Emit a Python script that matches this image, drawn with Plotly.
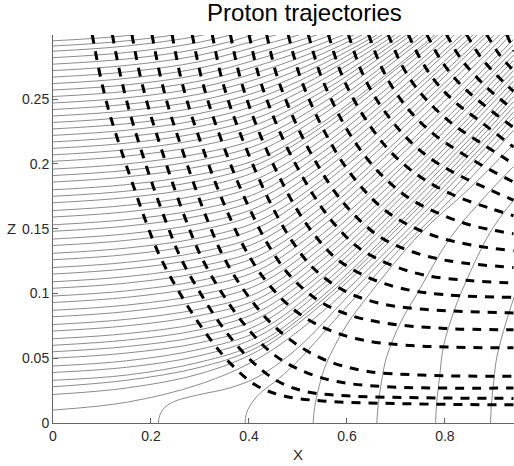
import plotly.graph_objects as go

title_text = "Proton trajectories"
x_ticks = [0, 0.2, 0.4, 0.6, 0.8]
x_tick_labels = ["0", "0.2", "0.4", "0.6", "0.8"]
z_ticks = [0, 0.05, 0.1, 0.15, 0.2, 0.25]
z_tick_labels = ["0", "0.05", "0.1", "0.15", "0.2", "0.25"]

# Trajectories that start on the left edge: z read at these x positions
x_cols = [0, 0.15, 0.3, 0.42, 0.55, 0.7, 0.85, 0.94]
left_z = [
    [0.010, 0.016, 0.030, 0.050, 0.086, 0.140, 0.199, 0.236],
    [0.022, 0.027, 0.038, 0.056, 0.092, 0.145, 0.203, 0.240],
    [0.028, 0.033, 0.043, 0.059, 0.095, 0.149, 0.207, 0.244],
    [0.033, 0.037, 0.047, 0.062, 0.098, 0.152, 0.211, 0.248],
    [0.039, 0.043, 0.052, 0.067, 0.103, 0.157, 0.215, 0.252],
    [0.044, 0.048, 0.057, 0.071, 0.107, 0.161, 0.219, 0.256],
    [0.050, 0.054, 0.062, 0.076, 0.112, 0.165, 0.223, 0.260],
    [0.055, 0.059, 0.067, 0.081, 0.116, 0.170, 0.228, 0.264],
    [0.060, 0.064, 0.072, 0.086, 0.121, 0.174, 0.232, 0.268],
    [0.065, 0.069, 0.077, 0.091, 0.126, 0.179, 0.236, 0.272],
    [0.071, 0.075, 0.083, 0.096, 0.131, 0.183, 0.240, 0.276],
    [0.076, 0.080, 0.088, 0.101, 0.136, 0.188, 0.245, 0.280],
    [0.082, 0.086, 0.094, 0.107, 0.141, 0.193, 0.249, 0.284],
    [0.087, 0.091, 0.099, 0.112, 0.146, 0.197, 0.253, 0.288],
    [0.093, 0.097, 0.105, 0.118, 0.152, 0.203, 0.258, 0.292],
    [0.098, 0.102, 0.110, 0.123, 0.157, 0.207, 0.262, 0.296],
    [0.104, 0.108, 0.116, 0.129, 0.162, 0.213, 0.267, 0.302],
    [0.109, 0.113, 0.121, 0.134, 0.167, 0.217, 0.272, 0.306],
    [0.115, 0.119, 0.127, 0.140, 0.173, 0.223, 0.277, 0.310],
    [0.120, 0.124, 0.132, 0.145, 0.178, 0.227, 0.281, 0.314],
    [0.126, 0.130, 0.138, 0.151, 0.184, 0.232, 0.286, 0.319],
    [0.131, 0.135, 0.143, 0.156, 0.188, 0.237, 0.289, 0.322],
    [0.137, 0.141, 0.149, 0.162, 0.194, 0.242, 0.294, 0.327],
    [0.142, 0.146, 0.154, 0.167, 0.199, 0.246, 0.297, 0.329],
    [0.148, 0.152, 0.160, 0.173, 0.204, 0.251, 0.302, 0.334],
    [0.153, 0.157, 0.165, 0.178, 0.209, 0.255, 0.305, 0.337],
    [0.159, 0.163, 0.171, 0.184, 0.214, 0.260, 0.310, 0.341],
    [0.164, 0.168, 0.176, 0.189, 0.219, 0.264, 0.313, 0.343],
    [0.170, 0.174, 0.182, 0.195, 0.225, 0.269, 0.317, 0.347],
    [0.175, 0.179, 0.187, 0.200, 0.229, 0.273, 0.320, 0.350],
    [0.180, 0.184, 0.192, 0.204, 0.232, 0.275, 0.322, 0.351],
    [0.186, 0.190, 0.198, 0.210, 0.238, 0.280, 0.325, 0.354],
    [0.191, 0.195, 0.203, 0.215, 0.242, 0.283, 0.328, 0.355],
    [0.196, 0.200, 0.208, 0.220, 0.247, 0.287, 0.330, 0.357],
    [0.202, 0.206, 0.214, 0.226, 0.252, 0.291, 0.334, 0.360],
    [0.207, 0.211, 0.219, 0.231, 0.256, 0.294, 0.335, 0.361],
    [0.212, 0.216, 0.224, 0.236, 0.260, 0.297, 0.337, 0.361],
    [0.217, 0.221, 0.229, 0.241, 0.265, 0.300, 0.338, 0.362],
    [0.222, 0.226, 0.234, 0.246, 0.269, 0.303, 0.340, 0.363],
    [0.227, 0.231, 0.239, 0.251, 0.273, 0.306, 0.341, 0.364],
    [0.232, 0.236, 0.244, 0.256, 0.277, 0.308, 0.342, 0.363],
    [0.237, 0.241, 0.249, 0.261, 0.281, 0.310, 0.343, 0.363],
    [0.242, 0.246, 0.254, 0.266, 0.285, 0.313, 0.343, 0.362],
    [0.247, 0.251, 0.259, 0.271, 0.289, 0.315, 0.344, 0.362],
    [0.252, 0.256, 0.264, 0.276, 0.293, 0.318, 0.345, 0.362],
    [0.257, 0.261, 0.269, 0.281, 0.297, 0.320, 0.346, 0.361],
    [0.262, 0.266, 0.274, 0.286, 0.301, 0.322, 0.346, 0.361],
    [0.267, 0.271, 0.279, 0.291, 0.305, 0.325, 0.347, 0.361],
    [0.272, 0.276, 0.284, 0.296, 0.310, 0.330, 0.352, 0.366],
    [0.277, 0.281, 0.289, 0.301, 0.320, 0.340, 0.360, 0.370],
    [0.282, 0.286, 0.294, 0.306, 0.325, 0.345, 0.365, 0.375],
    [0.287, 0.291, 0.299, 0.311, 0.330, 0.350, 0.370, 0.380],
    [0.291, 0.295, 0.303, 0.315, 0.335, 0.355, 0.375, 0.385],
    [0.295, 0.299, 0.307, 0.319, 0.340, 0.360, 0.380, 0.390],
]

# Trajectories that leave the bottom edge (z = 0)
bottom_x = [
    [0.215, 0.218, 0.228, 0.250, 0.300, 0.360, 0.420, 0.500, 0.600, 0.700, 0.800, 0.850, 0.940],
    [0.392, 0.394, 0.400, 0.420, 0.460, 0.500, 0.600, 0.700, 0.800, 0.850, 0.940],
    [0.531, 0.534, 0.543, 0.558, 0.600, 0.647, 0.749, 0.850, 0.940],
    [0.661, 0.664, 0.671, 0.681, 0.710, 0.742, 0.811, 0.880, 0.940],
    [0.781, 0.783, 0.789, 0.797, 0.820, 0.844, 0.892, 0.940],
    [0.893, 0.895, 0.900, 0.906, 0.925, 0.941],
]
bottom_z = [
    [0.000, 0.006, 0.012, 0.017, 0.022, 0.027, 0.036, 0.058, 0.097, 0.136, 0.174, 0.194, 0.231],
    [0.000, 0.006, 0.012, 0.022, 0.034, 0.048, 0.090, 0.131, 0.168, 0.188, 0.226],
    [0.000, 0.012, 0.028, 0.046, 0.076, 0.100, 0.146, 0.181, 0.215],
    [0.000, 0.015, 0.033, 0.051, 0.078, 0.099, 0.143, 0.174, 0.198],
    [0.000, 0.015, 0.035, 0.059, 0.088, 0.110, 0.147, 0.172],
    [0.000, 0.015, 0.033, 0.051, 0.078, 0.097],
]

# Dashed fronts (top edge to right edge)
dash_x = [
    [0.080, 0.097, 0.114, 0.137, 0.165, 0.192, 0.219, 0.256, 0.307, 0.362, 0.415, 0.470, 0.550, 0.700, 0.940],
    [0.121, 0.138, 0.155, 0.178, 0.205, 0.233, 0.260, 0.298, 0.348, 0.405, 0.460, 0.520, 0.600, 0.750, 0.940],
    [0.161, 0.178, 0.196, 0.220, 0.247, 0.275, 0.303, 0.342, 0.393, 0.450, 0.510, 0.580, 0.680, 0.940],
    [0.202, 0.219, 0.237, 0.262, 0.290, 0.318, 0.347, 0.387, 0.440, 0.500, 0.560, 0.640, 0.750, 0.940],
    [0.243, 0.260, 0.279, 0.304, 0.333, 0.363, 0.394, 0.436, 0.490, 0.550, 0.620, 0.720, 0.940],
    [0.284, 0.302, 0.321, 0.347, 0.377, 0.408, 0.440, 0.483, 0.540, 0.600, 0.680, 0.800, 0.940],
    [0.325, 0.343, 0.363, 0.390, 0.421, 0.453, 0.487, 0.530, 0.590, 0.660, 0.750, 0.940],
    [0.362, 0.381, 0.402, 0.430, 0.462, 0.496, 0.532, 0.578, 0.640, 0.710, 0.800, 0.940],
    [0.400, 0.420, 0.442, 0.471, 0.505, 0.540, 0.578, 0.625, 0.690, 0.760, 0.850, 0.940],
    [0.436, 0.457, 0.480, 0.510, 0.545, 0.582, 0.622, 0.670, 0.735, 0.810, 0.940],
    [0.480, 0.502, 0.526, 0.557, 0.593, 0.632, 0.675, 0.725, 0.790, 0.860, 0.940],
    [0.521, 0.544, 0.569, 0.601, 0.639, 0.680, 0.725, 0.780, 0.850, 0.940],
    [0.562, 0.586, 0.612, 0.646, 0.685, 0.728, 0.775, 0.830, 0.890, 0.940],
    [0.603, 0.628, 0.655, 0.690, 0.730, 0.775, 0.825, 0.880, 0.940],
    [0.644, 0.670, 0.698, 0.735, 0.777, 0.823, 0.875, 0.940],
    [0.684, 0.711, 0.741, 0.779, 0.822, 0.870, 0.940],
    [0.725, 0.753, 0.784, 0.823, 0.868, 0.940],
    [0.763, 0.792, 0.825, 0.865, 0.940],
    [0.803, 0.833, 0.867, 0.900, 0.940],
    [0.844, 0.874, 0.907, 0.940],
    [0.885, 0.912, 0.940],
    [0.926, 0.941],
]
dash_z = [
    [0.300, 0.267, 0.241, 0.213, 0.182, 0.153, 0.128, 0.102, 0.072, 0.046, 0.029, 0.021, 0.017, 0.015, 0.014],
    [0.300, 0.268, 0.242, 0.213, 0.182, 0.153, 0.128, 0.102, 0.073, 0.048, 0.032, 0.024, 0.021, 0.0195, 0.019],
    [0.300, 0.268, 0.242, 0.213, 0.182, 0.153, 0.128, 0.102, 0.075, 0.053, 0.040, 0.032, 0.028, 0.027],
    [0.300, 0.268, 0.242, 0.213, 0.182, 0.154, 0.129, 0.104, 0.079, 0.060, 0.048, 0.040, 0.037, 0.036],
    [0.300, 0.268, 0.242, 0.214, 0.184, 0.157, 0.133, 0.109, 0.088, 0.074, 0.065, 0.060, 0.058],
    [0.300, 0.268, 0.243, 0.215, 0.186, 0.160, 0.137, 0.114, 0.095, 0.084, 0.077, 0.073, 0.072],
    [0.300, 0.268, 0.243, 0.216, 0.188, 0.163, 0.141, 0.120, 0.103, 0.093, 0.088, 0.085],
    [0.300, 0.268, 0.243, 0.216, 0.190, 0.166, 0.146, 0.127, 0.113, 0.104, 0.099, 0.097],
    [0.300, 0.268, 0.244, 0.218, 0.193, 0.171, 0.152, 0.135, 0.122, 0.114, 0.110, 0.108],
    [0.300, 0.268, 0.245, 0.220, 0.196, 0.175, 0.158, 0.143, 0.132, 0.125, 0.120],
    [0.300, 0.270, 0.247, 0.223, 0.200, 0.181, 0.165, 0.153, 0.143, 0.137, 0.133],
    [0.300, 0.271, 0.249, 0.226, 0.205, 0.188, 0.174, 0.163, 0.153, 0.146],
    [0.300, 0.272, 0.251, 0.230, 0.211, 0.196, 0.184, 0.174, 0.166, 0.160],
    [0.300, 0.273, 0.253, 0.234, 0.217, 0.203, 0.192, 0.182, 0.172],
    [0.300, 0.275, 0.256, 0.238, 0.223, 0.211, 0.199, 0.186],
    [0.300, 0.277, 0.259, 0.243, 0.229, 0.217, 0.200],
    [0.300, 0.279, 0.262, 0.247, 0.234, 0.213],
    [0.300, 0.280, 0.264, 0.250, 0.228],
    [0.300, 0.281, 0.266, 0.254, 0.242],
    [0.300, 0.282, 0.268, 0.256],
    [0.300, 0.284, 0.272],
    [0.300, 0.287],
]

THIN = dict(color="#8c8c8c", width=1, shape="spline", smoothing=1.0)
DASH = dict(color="black", width=3, dash="9px,8px", shape="spline", smoothing=1.0)

fig = go.Figure()
for row in left_z:
    fig.add_trace(go.Scatter(x=x_cols, y=row, mode="lines", line=THIN,
                             hoverinfo="skip", showlegend=False))
for xs, zs in zip(bottom_x, bottom_z):
    fig.add_trace(go.Scatter(x=xs, y=zs, mode="lines", line=THIN,
                             hoverinfo="skip", showlegend=False))
for xs, zs in zip(dash_x, dash_z):
    fig.add_trace(go.Scatter(x=xs, y=zs, mode="lines", line=DASH,
                             hoverinfo="skip", showlegend=False))

FW, FH = 514, 466
FONT = "Liberation Sans, Arial, sans-serif"
axis_common = dict(showgrid=False, zeroline=False, showline=True, linecolor="#666666",
                   linewidth=1, ticks="inside", ticklen=5, tickcolor="#666666",
                   tickfont=dict(family=FONT, size=14, color="#2a2a2a"))
fig.update_layout(
    width=FW, height=FH,
    margin=dict(l=52.5, r=0, t=35, b=43, autoexpand=False),
    plot_bgcolor="white", paper_bgcolor="white",
    hovermode=False,
    xaxis=dict(range=[0, 0.941], tickvals=x_ticks, ticktext=x_tick_labels, **axis_common),
    yaxis=dict(range=[0, 0.2995], tickvals=z_ticks, ticktext=z_tick_labels, **axis_common),
    title=dict(text=title_text, x=304.5 / FW, xanchor="center", xref="container",
               y=1 - 12.5 / FH, yanchor="middle", yref="container",
               font=dict(family=FONT, size=24, color="black")),
    annotations=[
        dict(text="Z", x=(11 - 52.5) / 461.5, xref="paper", y=0.15, yref="y", showarrow=False,
             xanchor="center", yanchor="middle",
             font=dict(family=FONT, size=15, color="#2a2a2a")),
        dict(text="X", x=0.5, xref="x", y=-(454 - 423) / 388, yref="paper", showarrow=False,
             xanchor="center", yanchor="middle",
             font=dict(family=FONT, size=15, color="#2a2a2a")),
    ],
)
fig.write_html("out.html", config={"displayModeBar": False},
               post_script="document.body.style.margin='0px';")
